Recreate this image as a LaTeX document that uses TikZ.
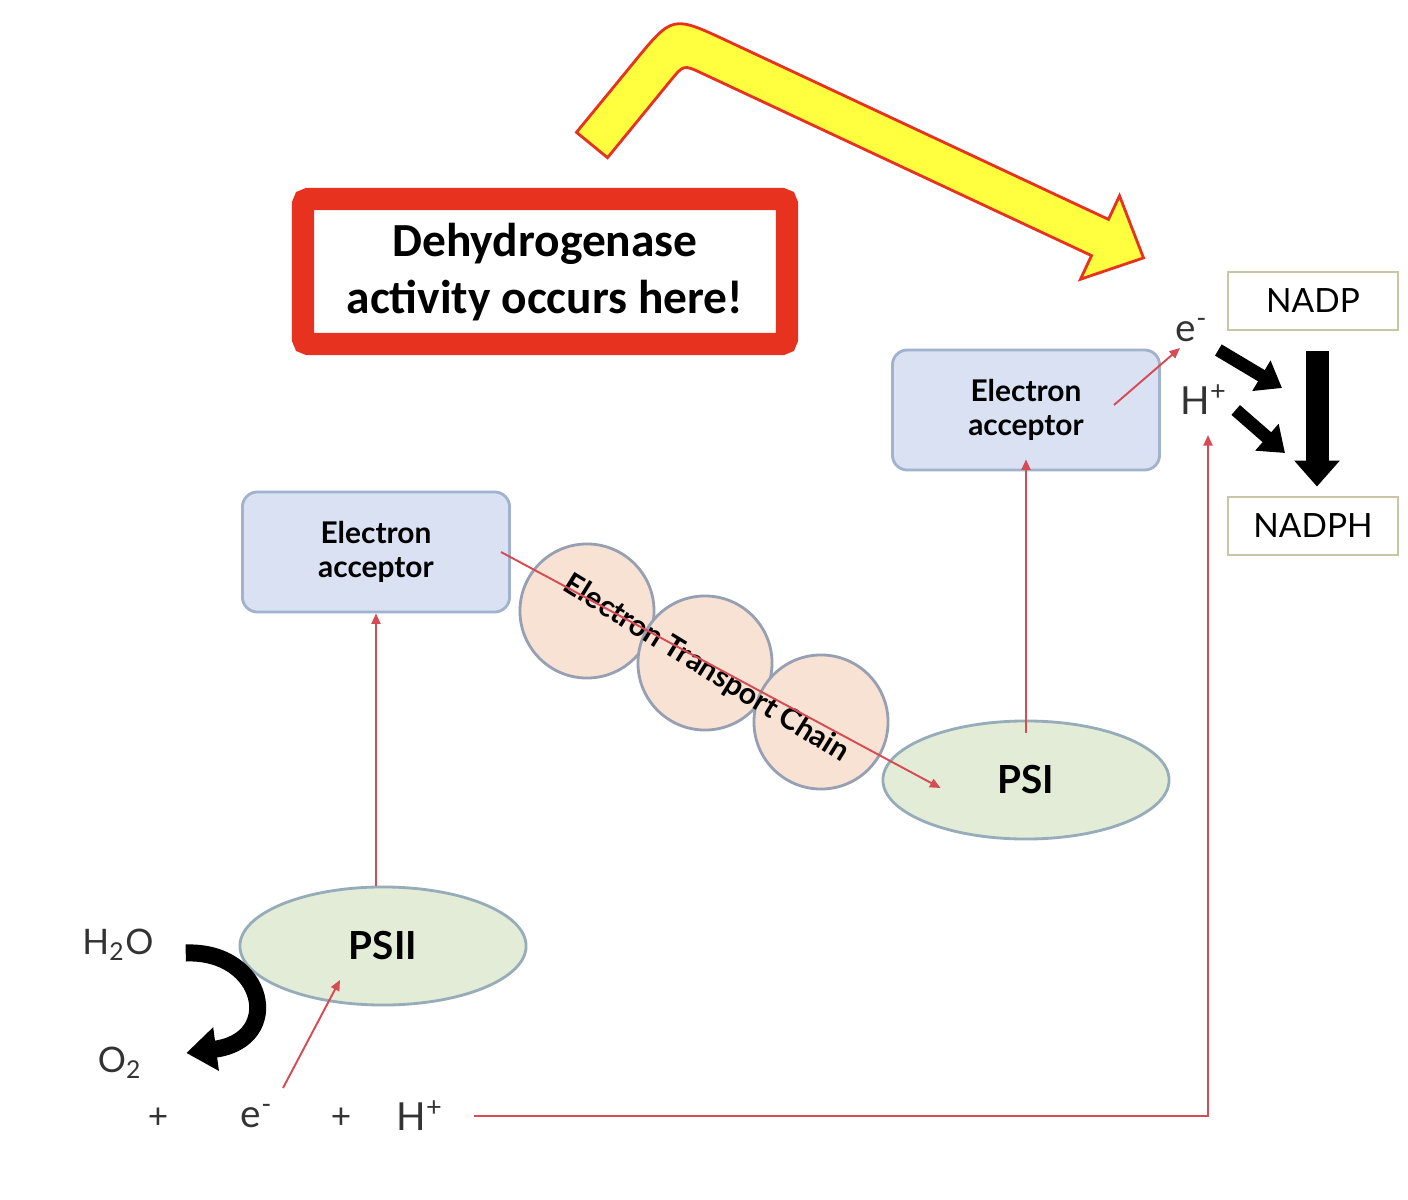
\documentclass[tikz,border=0pt]{standalone}
\usepackage{fontspec}
\setmainfont{Lato}
\newfontfamily\calibri{Carlito}
\usetikzlibrary{arrows.meta,calc,shapes.geometric}
\definecolor{accfill}{RGB}{218,225,243}
\definecolor{accdraw}{RGB}{160,178,205}
\definecolor{psfill}{RGB}{226,236,215}
\definecolor{psdraw}{RGB}{150,172,185}
\definecolor{etcfill}{RGB}{248,226,212}
\definecolor{etcdraw}{RGB}{150,160,178}
\definecolor{nadpdraw}{RGB}{200,198,165}
\definecolor{eline}{RGB}{215,75,85}
\definecolor{notered}{RGB}{232,50,32}
\definecolor{hiyellow}{RGB}{255,255,64}

\begin{document}
\begin{tikzpicture}[
    x=0.01cm, y=-0.01cm,
    acc/.style={rectangle, draw=accdraw, fill=accfill, line width=0.8pt, rounded corners=0.15cm, minimum width=2.67cm, minimum height=1.2cm, align=center, text=black, font=\fontsize{8.5}{9.5}\selectfont\bfseries},
    ps/.style={ellipse, draw=psdraw, fill=psfill, line width=0.8pt, minimum width=2.86cm, minimum height=1.18cm, font=\fontsize{11}{13}\selectfont\bfseries},
    etc/.style={circle, draw=etcdraw, fill=etcfill, line width=0.8pt, minimum size=1.34cm},
    nadp/.style={rectangle, draw=nadpdraw, line width=0.8pt, minimum width=1.7cm, minimum height=0.58cm, font=\fontsize{9.5}{11}\selectfont},
    chem/.style={inner sep=1pt, font=\fontsize{10}{12}\selectfont, text=black!80},
    redarrow/.style={eline, line width=0.55pt, -{Triangle[length=3pt, width=2.6pt]}},
    fatarrow/.style={black, line width=0.13cm, -{Triangle[length=0.24cm, width=0.34cm]}}
]
\useasboundingbox[fill=white] (0,0) rectangle (1408,1200);

% Note box
\draw[notered, line width=0.22cm, rounded corners=0.05cm] (303,199) rectangle (787,344);
\node[align=center, font=\calibri\fontsize{13.5}{16.2}\selectfont\bfseries] (note) at (545,272) {Dehydrogenase\\activity occurs here!};

% Yellow bent arrow
\draw[notered, fill=hiyellow, line width=0.8pt]
    (576.5,132.3) -- (634.4,61.7) .. controls (672.4,15.3) .. (726.8,40.7)
    -- (1108.5,219.4) -- (1119.5,195.8) -- (1143.5,257.9) -- (1080.5,279.2) -- (1091.5,255.6)
    -- (701.8,73.2) .. controls (683.6,64.7) .. (670.9,80.2) -- (607.5,157.7) -- cycle;

% Photosystems and acceptors
\node[acc] (acc1) at (376,552) {Electron\\acceptor};
\node[acc] (acc2) at (1026,410) {Electron\\acceptor};
\node[ps] (psii) at (383,946) {PSII};
\node[ps] (psi) at (1026,780) {PSI};

% Electron transport chain
\node[etc] (etc1) at (587,611) {};
\node[etc] (etc2) at (705,663) {};
\node[etc] (etc3) at (821,722) {};
\node[rotate=-31.7, font=\fontsize{8.5}{10}\selectfont\bfseries] (etclabel) at (706,669) {Electron Transport Chain};

% NADP side
\node[nadp] (nadp) at (1313,301) {NADP};
\node[nadp] (nadph) at (1313,526) {NADPH};
\node[chem, font=\fontsize{11}{13}\selectfont] (eR) at (1192,330) {e\textsuperscript{-}};
\node[chem, font=\fontsize{11}{13}\selectfont] (hR) at (1204,400) {H\textsuperscript{+}};
\coordinate (tipe) at (1282,388);
\coordinate (tiph) at (1285,453);

% Water splitting
\node[chem] (h2o) at (118,945) {H\textsubscript{2}O};
\node[chem] (o2) at (120,1063) {O\textsubscript{2}};
\node[chem] (plus1) at (158,1118) {+};
\node[chem, font=\fontsize{11}{13}\selectfont] (eB) at (257,1116) {e\textsuperscript{-}};
\node[chem] (plus2) at (341,1118) {+};
\node[chem, font=\fontsize{11}{13}\selectfont] (hB) at (420,1116) {H\textsuperscript{+}};

% Arrows
\draw[redarrow] (acc1.south |- psii.north) -- (acc1.south);
\draw[redarrow] ($(acc1.east)+(-10,0)$) -- ($(psi.west)+(59,8)$);
\draw[redarrow] ($(psi.north)+(0,13)$) -- ($(acc2.south)+(0,-12)$);
\draw[redarrow] ($(acc2.east)+(-47,-5)$) -- ($(eR.center)+(-12,18)$);
\draw[redarrow] ($(eB.center)+(26,-28)$) -- ($(psii.center)+(-43,34)$);
\draw[redarrow, shorten <=0.26cm] (hB.east) -| ($(hR.south)+(4,16)$);

\draw[fatarrow] ($(eR.east)+(6,20)$) -- (tipe);
\draw[fatarrow] ($(hR.east)+(4,10)$) -- (tiph);
\draw[black, line width=0.23cm, -{Triangle[length=0.26cm, width=0.44cm]}] ($(nadp.south)+(4,20)$) -- ($(nadph.north)+(4,-9)$);
\draw[black, line width=0.17cm, -{Triangle[length=0.3cm, width=0.42cm]}]
    ($(h2o.east)+(28,8)$) .. controls (265,950) and (285,1040) .. ($(o2.east)+(40,-10)$);

\end{tikzpicture}
\end{document}
